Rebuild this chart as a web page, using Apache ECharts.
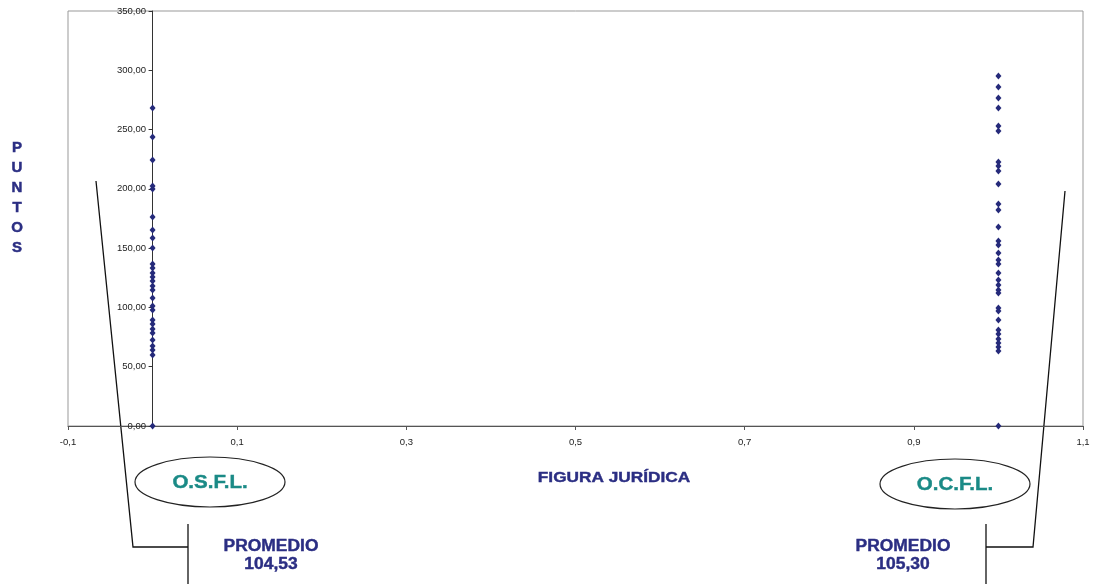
<!DOCTYPE html>
<html><head><meta charset="utf-8">
<script src="https://cdn.jsdelivr.net/npm/echarts@6/dist/echarts.min.js"></script>
<style>html,body{margin:0;padding:0;background:#fff}#c{width:1093px;height:584px}</style>
</head><body><div id="c"></div>
<script>
const osflValues = [268.2,243.7,224.3,202.4,199.9,176.3,165.3,158.6,150.1,136.6,133.3,129.0,125.7,122.3,118.1,114.7,108.0,101.2,97.8,89.4,86.0,81.8,78.4,72.5,67.5,64.1,59.9,0];
const ocflValues = [295.2,285.9,276.6,268.2,253.0,248.8,222.7,219.3,215.1,204.1,187.2,182.2,167.8,156.0,152.7,145.9,140.0,136.6,129.0,123.1,118.9,114.7,112.2,99.5,97.0,89.4,81.0,77.6,73.4,70.0,66.6,63.3,0];
const groupX = [0, 1];
const groupNames = ['O.S.F.L.', 'O.C.F.L.'];
const averages = ['104,53', '105,30'];

const navy = '#2b2e83';
const teal = '#1a8a86';
const pts = [];
osflValues.forEach(v => pts.push([groupX[0], v]));
ocflValues.forEach(v => pts.push([groupX[1], v]));

const chart = echarts.init(document.getElementById('c'));
const font = 'Liberation Sans, Arial, sans-serif';
chart.setOption({
  animation: false,
  grid: {left: 68, right: 10, top: 11, bottom: 158, show: true, borderColor: '#999', borderWidth: 1},
  xAxis: {
    type: 'value', min: -0.1, max: 1.1, interval: 0.2,
    axisLine: {show: true, onZero: false, lineStyle: {color: '#555', width: 1}},
    axisTick: {show: true, length: 4, lineStyle: {color: '#555'}},
    splitLine: {show: false},
    axisLabel: {fontSize: 9.5, color: '#222', fontFamily: font, margin: 11,
      formatter: v => (Math.round(v * 10) / 10).toFixed(1).replace('.', ',')}
  },
  yAxis: {
    type: 'value', min: 0, max: 350, interval: 50,
    axisLine: {show: true, onZero: true, lineStyle: {color: '#333', width: 1}},
    axisTick: {show: true, length: 4, lineStyle: {color: '#333'}},
    splitLine: {show: false},
    axisLabel: {fontSize: 9.5, color: '#222', fontFamily: font, margin: -78, align: 'right',
      formatter: v => v.toFixed(2).replace('.', ',')}
  },
  series: [{
    type: 'scatter', data: pts, symbol: 'diamond', symbolSize: [6, 7],
    itemStyle: {color: '#252a7a', opacity: 1}
  }],
  graphic: [
    {type: 'text', x: 17, y: 138, style: {text: 'P\nU\nN\nT\nO\nS', font: 'bold 15px ' + font, fill: navy, stroke: navy, lineWidth: 0.5, lineHeight: 20, align: 'center', verticalAlign: 'top'}},
    {type: 'text', x: 614, y: 478, scaleX: 1.15, style: {text: 'FIGURA JURÍDICA', font: 'bold 15px ' + font, fill: navy, stroke: navy, lineWidth: 0.4, align: 'center', verticalAlign: 'middle'}},
    {type: 'ellipse', shape: {cx: 210, cy: 482, rx: 75, ry: 25}, style: {fill: '#fff', stroke: '#222', lineWidth: 1.2}},
    {type: 'ellipse', shape: {cx: 955, cy: 484, rx: 75, ry: 25}, style: {fill: '#fff', stroke: '#222', lineWidth: 1.2}},
    {type: 'text', x: 210, y: 483, scaleX: 1.08, style: {text: groupNames[0], font: 'bold 19px ' + font, fill: teal, stroke: teal, lineWidth: 0.4, align: 'center', verticalAlign: 'middle'}},
    {type: 'text', x: 955, y: 485, scaleX: 1.08, style: {text: groupNames[1], font: 'bold 19px ' + font, fill: teal, stroke: teal, lineWidth: 0.4, align: 'center', verticalAlign: 'middle'}},
    {type: 'polyline', shape: {points: [[96, 181], [133, 547], [188, 547]]}, style: {stroke: '#111', lineWidth: 1.3, fill: null}},
    {type: 'line', shape: {x1: 188, y1: 524, x2: 188, y2: 584}, style: {stroke: '#111', lineWidth: 1.3}},
    {type: 'polyline', shape: {points: [[1065, 191], [1033, 547], [986, 547]]}, style: {stroke: '#111', lineWidth: 1.3, fill: null}},
    {type: 'line', shape: {x1: 986, y1: 524, x2: 986, y2: 584}, style: {stroke: '#111', lineWidth: 1.3}},
    {type: 'text', x: 271, y: 556, scaleX: 1.09, style: {text: 'PROMEDIO\n' + averages[0], font: 'bold 16px ' + font, fill: navy, stroke: navy, lineWidth: 0.4, align: 'center', verticalAlign: 'middle', lineHeight: 18}},
    {type: 'text', x: 903, y: 556, scaleX: 1.09, style: {text: 'PROMEDIO\n' + averages[1], font: 'bold 16px ' + font, fill: navy, stroke: navy, lineWidth: 0.4, align: 'center', verticalAlign: 'middle', lineHeight: 18}}
  ]
});
</script></body></html>
